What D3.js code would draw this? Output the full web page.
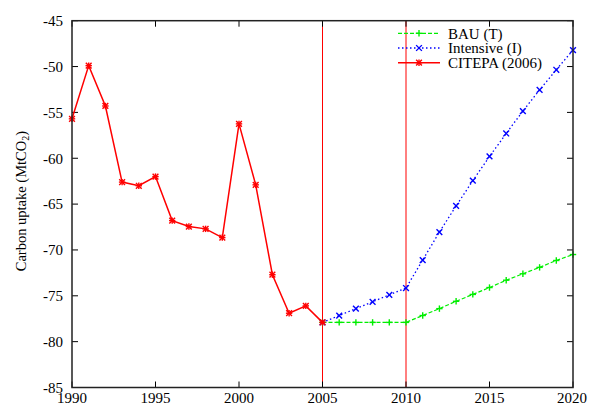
<!DOCTYPE html>
<html>
<head>
<meta charset="utf-8">
<script src="https://cdn.jsdelivr.net/npm/d3@7"></script>
<style>
  html, body { margin: 0; padding: 0; background: #fff; }
  svg text { font-family: 'Liberation Serif', 'Times New Roman', Times, serif; }
</style>
</head>
<body>
<div id="chart"></div>
<script>
const citepaYears = d3.range(1990, 2006);
const citepa = [-55.7, -49.9, -54.3, -62.6, -63.0, -62.0, -66.8, -67.45, -67.7, -68.65,
  -56.25, -62.9, -72.7, -76.9, -76.1, -77.9];

const scenarioYears = d3.range(2005, 2021);
const bau = [-77.9, -77.9, -77.9, -77.9, -77.9, -77.9, -77.15, -76.4, -75.6, -74.85,
  -74.1, -73.3, -72.6, -71.9, -71.15, -70.5];
const intensive = [-77.9, -77.15, -76.4, -75.65, -74.9, -74.15, -71.1, -68.05, -65.2, -62.45,
  -59.8, -57.3, -54.85, -52.55, -50.35, -48.2];

const xTicks = [1990, 1995, 2000, 2005, 2010, 2015, 2020];
const yTicks = [-85, -80, -75, -70, -65, -60, -55, -50, -45];
const markerYears = [2005, 2010];

const width = 591, height = 407;
const mLeft = 72, mRight = 573, mTop = 20.7, mBottom = 387.5;
const fontFam = "'Liberation Serif', 'Times New Roman', Times, serif";

const svg = d3.select("#chart").append("svg")
  .attr("width", width)
  .attr("height", height)
  .attr("font-family", fontFam);

const x = d3.scaleLinear().domain([1990, 2020]).range([mLeft, mRight]);
const y = d3.scaleLinear().domain([-85, -45]).range([mBottom, mTop]);

// vertical reference lines
svg.append("g")
  .selectAll("line")
  .data(markerYears)
  .join("line")
  .attr("x1", d => x(d)).attr("x2", d => x(d))
  .attr("y1", mTop).attr("y2", mBottom)
  .attr("stroke", "#ff0000")
  .attr("stroke-width", 1);

// ticks (inward, mirrored)
const tickLen = 6;
const ticks = svg.append("g").attr("stroke", "#000").attr("stroke-width", 1);
yTicks.forEach(t => {
  ticks.append("line").attr("x1", mLeft).attr("x2", mLeft + tickLen).attr("y1", y(t)).attr("y2", y(t));
  ticks.append("line").attr("x1", mRight).attr("x2", mRight - tickLen).attr("y1", y(t)).attr("y2", y(t));
});
xTicks.forEach(t => {
  ticks.append("line").attr("x1", x(t)).attr("x2", x(t)).attr("y1", mBottom).attr("y2", mBottom - tickLen);
  ticks.append("line").attr("x1", x(t)).attr("x2", x(t)).attr("y1", mTop).attr("y2", mTop + tickLen);
});

// tick labels
svg.append("g")
  .selectAll("text")
  .data(yTicks)
  .join("text")
  .attr("x", mLeft - 9)
  .attr("y", d => y(d))
  .attr("dy", "0.35em")
  .attr("text-anchor", "end")
  .attr("font-size", "15px")
  .text(d => d);

svg.append("g")
  .selectAll("text")
  .data(xTicks)
  .join("text")
  .attr("x", d => x(d) - (d === 2020 ? 1 : 0))
  .attr("y", 403)
  .attr("text-anchor", "middle")
  .attr("font-size", "15px")
  .text(d => d);

// y label
const yl = svg.append("text")
  .attr("transform", `translate(26,${(mTop + mBottom) / 2 - 3}) rotate(-90)`)
  .attr("text-anchor", "middle")
  .attr("font-size", "14.5px");
yl.append("tspan").text("Carbon uptake (MtCO");
yl.append("tspan").attr("font-size", "10px").attr("dy", 3).text("2");
yl.append("tspan").attr("dy", -3).text(")");

// markers
function drawMarker(g, type, cx, cy, color) {
  const s = 3.2;
  if (type === "plus" || type === "star") {
    g.append("line").attr("x1", cx - s).attr("x2", cx + s).attr("y1", cy).attr("y2", cy)
      .attr("stroke", color).attr("stroke-width", 1.4);
    g.append("line").attr("x1", cx).attr("x2", cx).attr("y1", cy - s).attr("y2", cy + s)
      .attr("stroke", color).attr("stroke-width", 1.4);
  }
  if (type === "cross" || type === "star") {
    const c = s * 0.9;
    g.append("line").attr("x1", cx - c).attr("x2", cx + c).attr("y1", cy - c).attr("y2", cy + c)
      .attr("stroke", color).attr("stroke-width", 1.4);
    g.append("line").attr("x1", cx - c).attr("x2", cx + c).attr("y1", cy + c).attr("y2", cy - c)
      .attr("stroke", color).attr("stroke-width", 1.4);
  }
}

const series = [
  { name: "BAU (T)", years: scenarioYears, values: bau, color: "#00ee00", dash: "4,2", marker: "plus", width: 1.2 },
  { name: "Intensive (I)", years: scenarioYears, values: intensive, color: "#0000ff", dash: "1.5,2.5", marker: "cross", width: 1.3 },
  { name: "CITEPA (2006)", years: citepaYears, values: citepa, color: "#ff0000", dash: null, marker: "star", width: 1.5 }
];

const line = d3.line().x(d => x(d[0])).y(d => y(d[1]));

series.forEach(s => {
  const pts = s.years.map((yr, i) => [yr, s.values[i]]);
  const g = svg.append("g");
  g.append("path")
    .attr("d", line(pts))
    .attr("fill", "none")
    .attr("stroke", s.color)
    .attr("stroke-width", s.width)
    .attr("stroke-dasharray", s.dash);
  pts.forEach(p => drawMarker(g, s.marker, x(p[0]), y(p[1]), s.color));
});

// legend
const legend = svg.append("g");
series.forEach((s, i) => {
  const ly = 33.3 + i * 14.7;
  legend.append("line")
    .attr("x1", 398).attr("x2", 440).attr("y1", ly).attr("y2", ly)
    .attr("stroke", s.color).attr("stroke-width", s.width)
    .attr("stroke-dasharray", s.dash);
  drawMarker(legend, s.marker, 419, ly, s.color);
  legend.append("text")
    .attr("x", 448).attr("y", ly).attr("dy", "0.35em")
    .attr("font-size", "15px")
    .text(s.name);
});

// border
svg.append("rect")
  .attr("x", mLeft).attr("y", mTop)
  .attr("width", mRight - mLeft).attr("height", mBottom - mTop)
  .attr("fill", "none")
  .attr("stroke", "#222")
  .attr("stroke-width", 1.5);
</script>
</body>
</html>
